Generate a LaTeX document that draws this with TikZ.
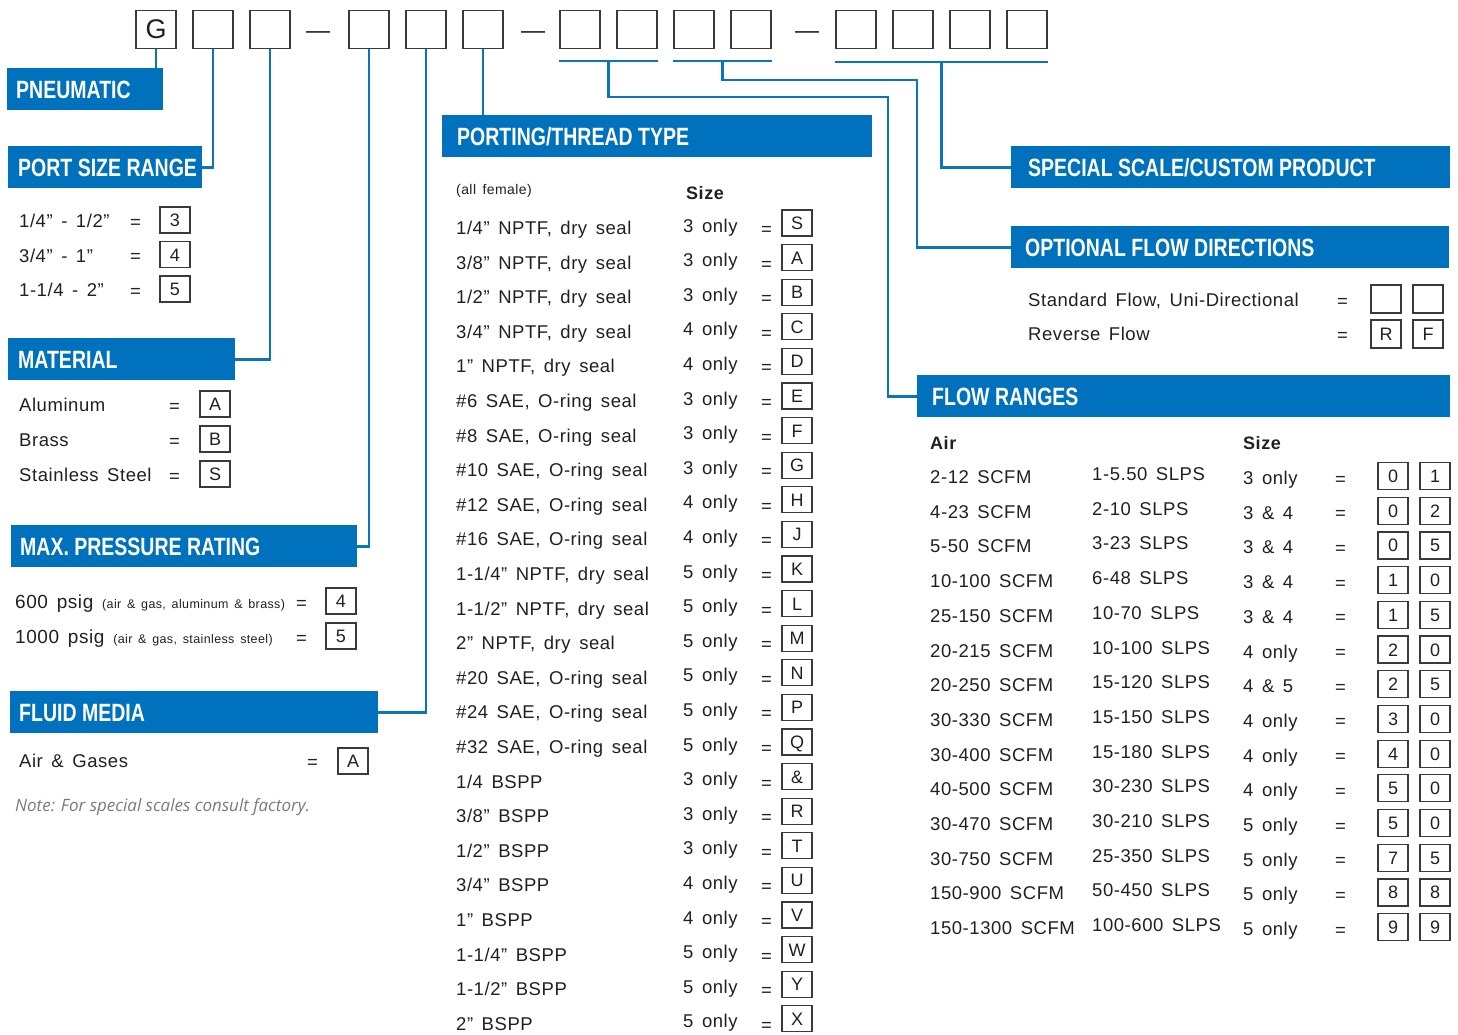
\documentclass[tikz,border=0pt]{standalone}
\usepackage{fontspec}
\setmainfont{Liberation Sans}[LetterSpace=3,WordSpace=1.5]
\newfontfamily\cabfont{Liberation Sans}[FakeStretch=0.78]
\newfontfamily\notafont{Open Sans}
\usetikzlibrary{positioning,calc}
\definecolor{azulcab}{HTML}{0071BC}
\definecolor{azullin}{HTML}{0B74BE}
\definecolor{cinzacx}{HTML}{3A3A3A}
\definecolor{texto}{HTML}{231F20}
\definecolor{cinzanota}{HTML}{7A7A7A}

\begin{document}
\begin{tikzpicture}[x=1pt,y=-1pt,
  codebox/.style={draw=cinzacx, line width=1.4pt, minimum width=40pt, minimum height=38pt, inner sep=0pt, text=texto, font=\fontsize{27}{27}\selectfont},
  valbox/.style={draw=cinzacx, line width=1.2pt, minimum width=30pt, minimum height=26pt, inner sep=0pt, text height=13pt, text depth=0pt, text=texto, font=\fontsize{18}{18}\selectfont},
  cab/.style={fill=azulcab, text=white, anchor=north west, minimum height=42pt, inner ysep=0pt, inner xsep=9pt, text height=18pt, text depth=0pt, font=\cabfont\bfseries\fontsize{25}{25}\selectfont},
  lig/.style={draw=azullin, line width=2.8pt},
  txt/.style={anchor=base west, inner sep=0pt, text=texto, font=\fontsize{18.5}{20}\selectfont},
  miudo/.style={anchor=base west, inner sep=0pt, text=texto, font=\fontsize{14}{16}\selectfont},
  negrito/.style={txt, font=\bfseries\fontsize{18}{20}\selectfont}]
\useasboundingbox (0,0) rectangle (1458,1034);

% code boxes on top
\node[codebox] (cod1) at (156,29.5) {G};
\foreach \xx [count=\i from 2] in {213,270,369,426,483,580,637,694,751,856,913,970,1027}
  \node[codebox] (cod\i) at (\xx,29.5) {};
\foreach \xx [count=\i] in {318,533,807}
  \node[inner sep=0pt, text=texto, font=\fontsize{24}{24}\selectfont] (tr\i) at (\xx,35) {—};

% headings
\node[cab] (pneu) at (7,68) {\makebox[138pt][l]{PNEUMATIC}};
\node[cab, inner xsep=10pt] (tam) at (8,146) {\makebox[174pt][l]{PORT SIZE RANGE}};
\node[cab, inner xsep=10pt] (mat) at (8,338) {\makebox[207pt][l]{MATERIAL}};
\node[cab] (pres) at (11,525) {\makebox[328pt][l]{MAX. PRESSURE RATING}};
\node[cab] (flu) at (10,691) {\makebox[350pt][l]{FLUID MEDIA}};
\node[cab, inner xsep=15pt] (rosca) at (442,115) {\makebox[400pt][l]{PORTING/THREAD TYPE}};
\node[cab, inner xsep=17pt] (esp) at (1011,146) {\makebox[405pt][l]{SPECIAL SCALE/CUSTOM PRODUCT}};
\node[cab, inner xsep=14pt] (opc) at (1011,226) {\makebox[410pt][l]{OPTIONAL FLOW DIRECTIONS}};
\node[cab, inner xsep=15pt] (faixa) at (917,375) {\makebox[503pt][l]{FLOW RANGES}};

% connectors
\draw[lig] (cod1.south) -- (cod1.south |- pneu.north);
\draw[lig] (cod2.south) |- (tam.east);
\draw[lig] (cod3.south) |- (mat.east);
\draw[lig] (cod4.south) |- (pres.east);
\draw[lig] (cod5.south) |- (flu.east);
\draw[lig] (cod6.south) -- (cod6.south |- rosca.north);
\draw[lig, line width=2.3pt] ([yshift=-12pt]cod7.south west) -- coordinate (sub1) ([yshift=-12pt]cod8.south east);
\draw[lig, line width=2.3pt] ([yshift=-12pt]cod9.south west) -- coordinate (sub2) ([yshift=-12pt]cod10.south east);
\draw[lig, line width=2.3pt] ([yshift=-13pt]cod11.south west) -- coordinate (sub3) ([yshift=-13pt]cod14.south east);
\coordinate (dob1) at (888,97);
\coordinate (dob2) at (917,80);
\draw[lig] (sub1) |- (dob1) |- (faixa.west);
\draw[lig] (sub2) |- (dob2) |- (opc.west);
\draw[lig] (sub3) |- (esp.west);

% port size range
\foreach \txt/\cd [count=\i] in {{1/4” - 1/2”}/3, {3/4” - 1”}/4, {1-1/4 - 2”}/5}{
  \pgfmathsetmacro\yy{221+34.5*(\i-1)}
  \node[txt] (tt\i) at (19,\yy+6.5) {\txt};
  \node[txt] (ti\i) at (130,\yy+7) {=};
  \node[valbox] (tb\i) at (175,\yy-1) {\cd};
}

% material
\foreach \txt/\cd [count=\i] in {Aluminum/A, Brass/B, Stainless Steel/S}{
  \pgfmathsetmacro\yy{405+35*(\i-1)}
  \node[txt] (mt\i) at (19,\yy+6.5) {\txt};
  \node[txt] (mi\i) at (169,\yy+7) {=};
  \node[valbox] (mb\i) at (215,\yy-1) {\cd};
}

% pressure
\node[txt, font=\fontsize{19}{21}\selectfont] (pt1) at (15,608.5) {600 psig {\fontsize{12.5}{15}\selectfont(air \& gas, aluminum \& brass)}};
\node[txt] (pi1) at (296,609) {=};
\node[valbox] (pb1) at (341,601) {4};
\node[txt, font=\fontsize{19}{21}\selectfont] (pt2) at (15,643.5) {1000 psig {\fontsize{12.5}{15}\selectfont(air \& gas, stainless steel)}};
\node[txt] (pi2) at (296,644) {=};
\node[valbox] (pb2) at (341,636) {5};

% fluid media
\node[txt] (ft1) at (19,767.5) {Air \& Gases};
\node[txt] (fi1) at (307,768) {=};
\node[valbox] (fb1) at (353,761) {A};
\node[anchor=base west, inner sep=0pt, text=cinzanota, font=\notafont\itshape\fontsize{17}{19}\selectfont] (nota) at (15,811) {Note: For special scales consult factory.};

% porting / thread type
\node[miudo] (fem) at (456,194) {(all female)};
\node[negrito] (tam2) at (686,199.5) {Size};
\foreach \txt/\sz/\cd [count=\i from 0] in {
  {1/4” NPTF, dry seal}/3 only/S, {3/8” NPTF, dry seal}/3 only/A,
  {1/2” NPTF, dry seal}/3 only/B, {3/4” NPTF, dry seal}/4 only/C,
  {1” NPTF, dry seal}/4 only/D, {\#6 SAE, O-ring seal}/3 only/E,
  {\#8 SAE, O-ring seal}/3 only/F, {\#10 SAE, O-ring seal}/3 only/G,
  {\#12 SAE, O-ring seal}/4 only/H, {\#16 SAE, O-ring seal}/4 only/J,
  {1-1/4” NPTF, dry seal}/5 only/K, {1-1/2” NPTF, dry seal}/5 only/L,
  {2” NPTF, dry seal}/5 only/M, {\#20 SAE, O-ring seal}/5 only/N,
  {\#24 SAE, O-ring seal}/5 only/P, {\#32 SAE, O-ring seal}/5 only/Q,
  {1/4 BSPP}/3 only/\&, {3/8” BSPP}/3 only/R,
  {1/2” BSPP}/3 only/T, {3/4” BSPP}/4 only/U,
  {1” BSPP}/4 only/V, {1-1/4” BSPP}/5 only/W,
  {1-1/2” BSPP}/5 only/Y, {2” BSPP}/5 only/X}{
  \pgfmathsetmacro\yy{228+34.6*\i}
  \node[txt] (rt\i) at (456,\yy+6.5) {\txt};
  \node[txt] (rs\i) at (683,\yy+4) {\sz};
  \node[txt] (ri\i) at (761,\yy+7.5) {=};
  \node[valbox] (rb\i) at (797,\yy-5) {\cd};
}

% optional flow directions
\node[txt] (ot1) at (1028,306.5) {Standard Flow, Uni-Directional};
\node[txt] (oi1) at (1337,307) {=};
\node[valbox, minimum height=28pt] (ob1) at (1386,299) {};
\node[valbox, minimum height=28pt] (oc1) at (1428,299) {};
\node[txt] (ot2) at (1028,340.5) {Reverse Flow};
\node[txt] (oi2) at (1337,341) {=};
\node[valbox, minimum height=28pt] (ob2) at (1386,334) {R};
\node[valbox, minimum height=28pt] (oc2) at (1428,334) {F};

% flow ranges
\node[negrito] (ar) at (930,449.5) {Air};
\node[negrito] (tam3) at (1243,449.5) {Size};
\foreach \a/\b/\c/\d/\e [count=\i from 0] in {
  2-12 SCFM/1-5.50 SLPS/3 only/0/1, 4-23 SCFM/2-10 SLPS/3 \& 4/0/2,
  5-50 SCFM/3-23 SLPS/3 \& 4/0/5, 10-100 SCFM/6-48 SLPS/3 \& 4/1/0,
  25-150 SCFM/10-70 SLPS/3 \& 4/1/5, 20-215 SCFM/10-100 SLPS/4 only/2/0,
  20-250 SCFM/15-120 SLPS/4 \& 5/2/5, 30-330 SCFM/15-150 SLPS/4 only/3/0,
  30-400 SCFM/15-180 SLPS/4 only/4/0, 40-500 SCFM/30-230 SLPS/4 only/5/0,
  30-470 SCFM/30-210 SLPS/5 only/5/0, 30-750 SCFM/25-350 SLPS/5 only/7/5,
  150-900 SCFM/50-450 SLPS/5 only/8/8, 150-1300 SCFM/100-600 SLPS/5 only/9/9}{
  \pgfmathsetmacro\yy{477+34.7*\i}
  \node[txt] (fa\i) at (930,\yy+6.5) {\a};
  \node[txt] (fl\i) at (1092,\yy+3.5) {\b};
  \node[txt] (fs\i) at (1243,\yy+7.5) {\c};
  \node[txt] (fi\i) at (1335,\yy+8) {=};
  \node[valbox, minimum height=27pt] (fb\i) at (1393,\yy-1) {\d};
  \node[valbox, minimum height=27pt] (fc\i) at (1435,\yy-1) {\e};
}
\end{tikzpicture}
\end{document}
